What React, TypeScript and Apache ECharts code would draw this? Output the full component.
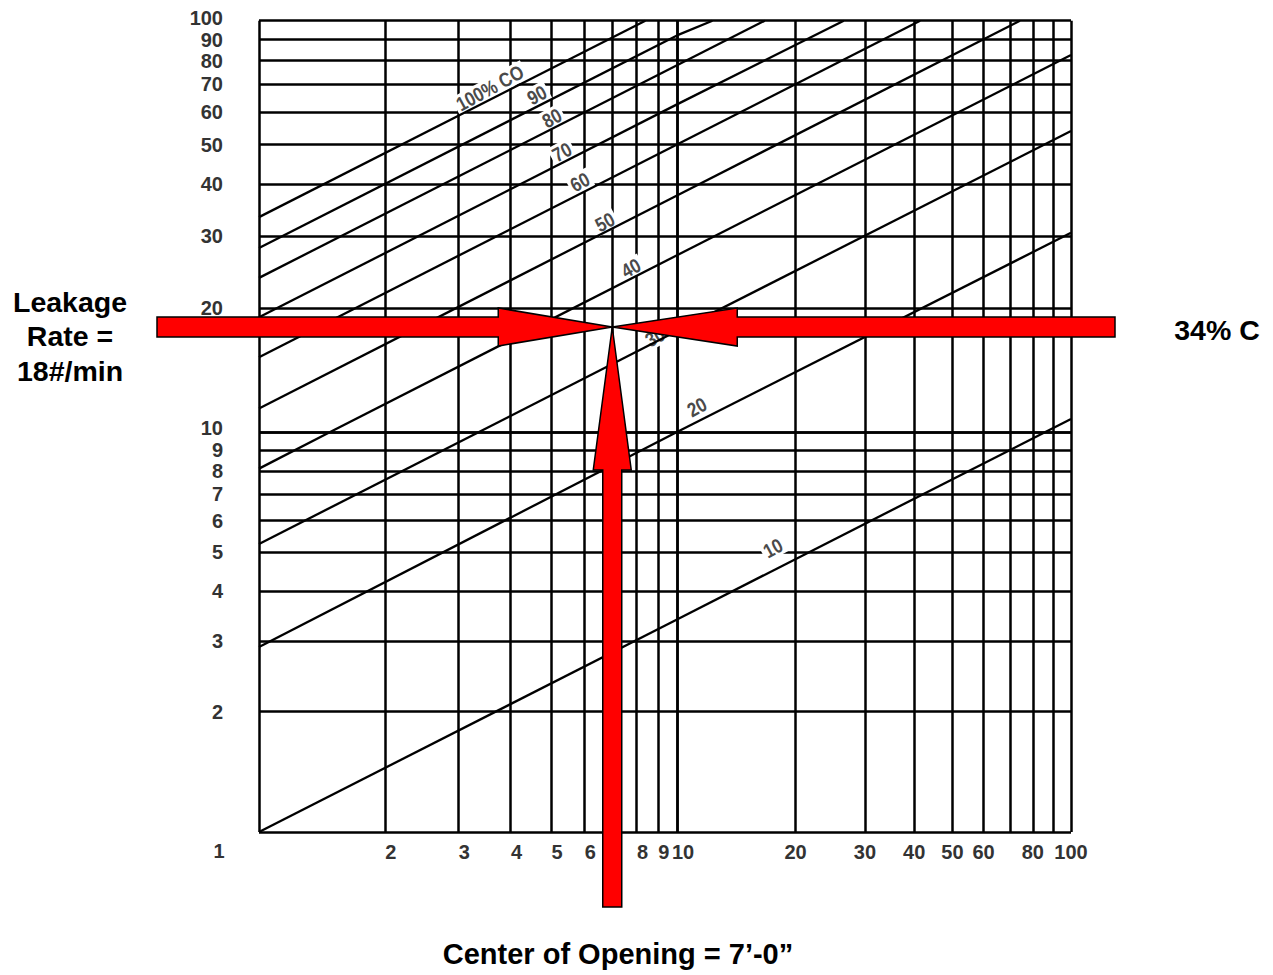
import React, { useEffect, useRef } from "react";
import * as echarts from "echarts";

// ---- Data (x = distance, y = leakage rate) ----
const CO_LABELS = ["100% CO", "90", "80", "70", "60", "50", "40", "30", "20", "10"];
const CO_100 = [[1, 33.3], [8.4, 100]];
const CO_90 = [[1, 28.0], [10, 92.1], [12.3, 100]];
const CO_80 = [[1, 23.7], [10, 77.9], [16.7, 100]];
const CO_70 = [[1, 19.0], [10, 62.6], [26.5, 100]];
const CO_60 = [[1, 15.2], [10, 50.0], [41.4, 100]];
const CO_50 = [[1, 11.4], [10, 37.6], [74.2, 100]];
const CO_40 = [[1, 8.1], [1.48, 10], [10, 26.9], [100, 82.5]];
const CO_30 = [[1, 5.25], [3.36, 10], [10, 17.6], [100, 53.9]];
const CO_20 = [[1, 2.9], [10, 10], [100, 30.5]];
const CO_10 = [[1, 1], [10, 3.4], [86.1, 10], [100, 10.76]];
const CO_LINES = [CO_100, CO_90, CO_80, CO_70, CO_60, CO_50, CO_40, CO_30, CO_20, CO_10];

const X_TICKS_LOW = [1, 2, 3, 4, 5, 6, 7, 8, 9, 10];
const X_TICKS_HIGH = [10, 20, 30, 40, 50, 60, 70, 80, 90, 100];
const Y_TICKS_LOW = [1, 2, 3, 4, 5, 6, 7, 8, 9, 10];
const Y_TICKS_HIGH = [10, 20, 30, 40, 50, 60, 70, 80, 90, 100];
const X_LABELS_LOW = [2, 3, 4, 5, 6, 8, 9, 10];
const X_LABELS_HIGH = [20, 30, 40, 50, 60, 80, 100];
const Y_LABELS_LOW = [2, 3, 4, 5, 6, 7, 8, 9];
const Y_LABELS_HIGH = [10, 20, 30, 40, 50, 60, 70, 80, 90, 100];
const CORNER_LABEL = "1";
const READING_POINT = [7, 18]; // 7 ft, 18 #/min

const LEFT_TEXT = "Leakage\nRate =\n18#/min";
const RIGHT_TEXT = "34% C";
const BOTTOM_TEXT = "Center of Opening = 7\u2019-0\u201D";

// ---- Layout / style ----
const FONT = "'Liberation Sans', Arial, Helvetica, sans-serif";
const GRIDS = [
  { left: 259, top: 20.7, width: 418, height: 411.3, x: [1, 10], y: [10, 100] },
  { left: 677, top: 20.7, width: 394, height: 411.3, x: [10, 100], y: [10, 100] },
  { left: 259, top: 432, width: 418, height: 400, x: [1, 10], y: [1, 10] },
  { left: 677, top: 432, width: 394, height: 400, x: [10, 100], y: [1, 10] },
];
const LABEL_POS = [
  [490, 88], [537, 95], [552, 118], [562, 152], [580, 182],
  [605, 222], [631, 268], [655, 337], [697, 407], [773, 548],
];

const GRID_LINE = { color: "#000", width: 2.5 };
const axisFont = { fontFamily: FONT, fontWeight: "bold" as const, fontSize: 20, color: "#333" };

function buildOption() {
  const grid = GRIDS.map((g) => ({
    left: g.left, top: g.top, width: g.width, height: g.height,
    outerBoundsMode: "none", containLabel: false,
  }));
  const xAxis = GRIDS.map((g, i) => {
    const low = g.x[0] === 1;
    return {
      type: "log", logBase: 10, gridIndex: i, min: g.x[0], max: g.x[1], position: "bottom",
      axisLine: { show: false },
      axisTick: { show: false, customValues: low ? X_TICKS_LOW : X_TICKS_HIGH },
      axisLabel: {
        show: i >= 2,
        customValues: low ? X_LABELS_LOW : X_LABELS_HIGH,
        formatter: (v: number) => String(Math.round(v)),
        showMinLabel: true, showMaxLabel: true,
        margin: 10,
        padding: low ? [0, 0, 0, 12] : [0, 0, 0, 0],
        ...axisFont,
      },
      splitLine: { show: true, lineStyle: GRID_LINE },
    };
  });
  const yAxis = GRIDS.map((g, i) => {
    const low = g.y[0] === 1;
    return {
      type: "log", logBase: 10, gridIndex: i, min: g.y[0], max: g.y[1], position: "left",
      axisLine: { show: false },
      axisTick: { show: false, customValues: low ? Y_TICKS_LOW : Y_TICKS_HIGH },
      axisLabel: {
        show: i === 0 || i === 2,
        customValues: low ? Y_LABELS_LOW : Y_LABELS_HIGH,
        formatter: (v: number) => {
          const r = Math.round(v);
          if (r === 10) return "{up|10}";
          if (r === 100) return "{up2|100}";
          return String(r);
        },
        rich: {
          up: { ...axisFont, padding: [0, 0, 9, 0] },
          up2: { ...axisFont, padding: [0, 0, 6, 0] },
        },
        showMinLabel: true, showMaxLabel: true,
        margin: 36,
        ...axisFont,
      },
      splitLine: { show: true, lineStyle: GRID_LINE },
    };
  });
  const eps = 1e-6;
  const series: any[] = [];
  CO_LINES.forEach((line, li) => {
    GRIDS.forEach((g, gi) => {
      const pts = line.filter(
        (p) => p[0] >= g.x[0] - eps && p[0] <= g.x[1] + eps && p[1] >= g.y[0] - eps && p[1] <= g.y[1] + eps
      );
      if (pts.length >= 2) {
        series.push({
          type: "line", name: CO_LABELS[li], xAxisIndex: gi, yAxisIndex: gi,
          data: pts, symbol: "none", silent: true,
          lineStyle: { color: "#000", width: 2.3 },
        });
      }
    });
  });
  return { animation: false, backgroundColor: "#fff", grid, xAxis, yAxis, series };
}

export default function App() {
  const ref = useRef<HTMLDivElement>(null);
  useEffect(() => {
    if (!ref.current) return;
    const chart = echarts.init(ref.current, null, { renderer: "svg" });
    chart.setOption(buildOption() as any);
    const tip = chart.convertToPixel({ gridIndex: 0 } as any, READING_POINT) as number[];
    const tx = tip[0];
    const ty = tip[1];
    const red = { fill: "#ff0000", stroke: "#000", lineWidth: 1.5 };
    const elements: any[] = [];
    LABEL_POS.forEach((p, i) => {
      elements.push({
        type: "text", x: p[0], y: p[1], rotation: 0.5, scaleX: 0.85, z: 1,
        style: {
          text: CO_LABELS[i], fill: "#4a4a4a", fontFamily: FONT, fontWeight: "bold", fontSize: 20,
          align: "center", verticalAlign: "middle", backgroundColor: "#fff", padding: [0, 3],
        },
      });
    });
    elements.push({
      type: "text", x: 219, y: 851, z: 5,
      style: { text: CORNER_LABEL, fill: "#333", fontFamily: FONT, fontWeight: "bold", fontSize: 20, align: "center", verticalAlign: "middle" },
    });
    // arrows
    elements.push({
      type: "polygon", z: 100,
      shape: { points: [[157, ty - 10], [tx - 114, ty - 10], [tx - 114, ty - 19], [tx, ty], [tx - 114, ty + 19], [tx - 114, ty + 10], [157, ty + 10]] },
      style: red,
    });
    elements.push({
      type: "polygon", z: 100,
      shape: { points: [[1115, ty - 10], [tx + 125, ty - 10], [tx + 125, ty - 19], [tx, ty], [tx + 125, ty + 19], [tx + 125, ty + 10], [1115, ty + 10]] },
      style: red,
    });
    elements.push({
      type: "polygon", z: 101,
      shape: { points: [[tx - 9.5, 907], [tx - 9.5, ty + 143], [tx - 19, ty + 143], [tx, ty], [tx + 19, ty + 143], [tx + 9.5, ty + 143], [tx + 9.5, 907]] },
      style: red,
    });
    elements.push({
      type: "text", x: 70, y: 336, z: 5,
      style: { text: LEFT_TEXT, fill: "#000", fontFamily: FONT, fontWeight: "bold", fontSize: 28.5, lineHeight: 34.5, align: "center", verticalAlign: "middle" },
    });
    elements.push({
      type: "text", x: 1217, y: 330, z: 5,
      style: { text: RIGHT_TEXT, fill: "#000", fontFamily: FONT, fontWeight: "bold", fontSize: 28.5, align: "center", verticalAlign: "middle" },
    });
    elements.push({
      type: "text", x: 618, y: 954, z: 5,
      style: { text: BOTTOM_TEXT, fill: "#000", fontFamily: FONT, fontWeight: "bold", fontSize: 29, align: "center", verticalAlign: "middle" },
    });
    chart.setOption({ graphic: { elements } } as any);
    return () => chart.dispose();
  }, []);
  return <div ref={ref} style={{ position: "fixed", left: 0, top: 0, width: 1273, height: 975 }} />;
}
